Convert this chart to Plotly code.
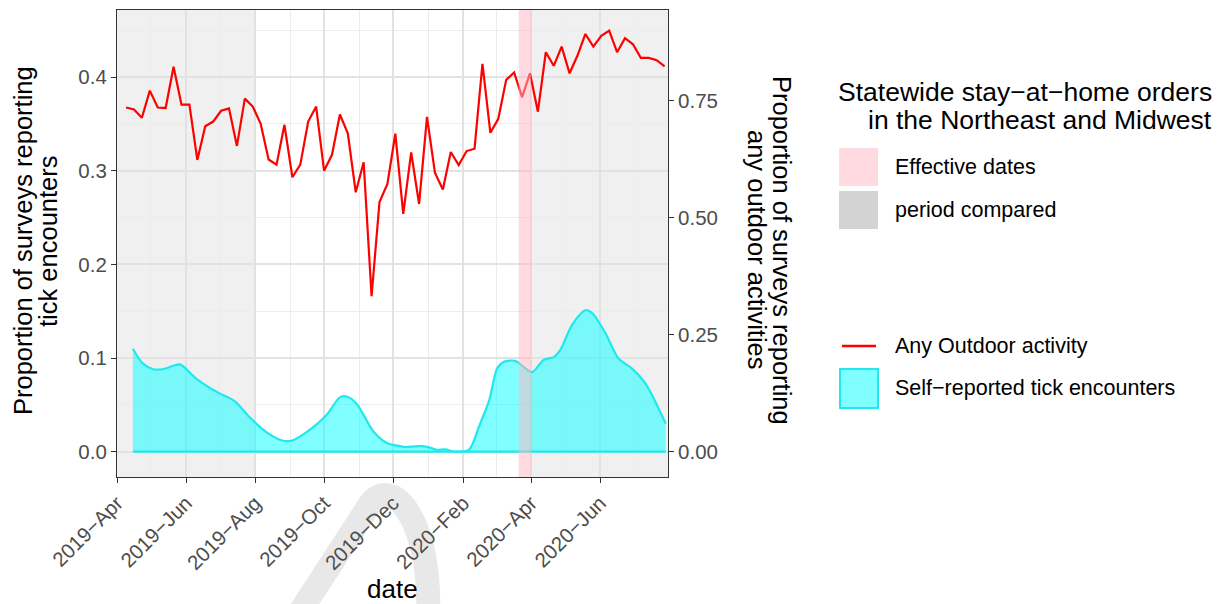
import pandas as pd
import plotly.graph_objects as go

# ---- data -------------------------------------------------------------
# weekly share of surveys reporting any outdoor activity (right axis)
outdoor_dates = pd.date_range("2019-04-09", periods=69, freq="7D")
outdoor_share = [
    0.735, 0.731, 0.713, 0.771, 0.735, 0.734, 0.822, 0.741, 0.741, 0.623,
    0.695, 0.705, 0.728, 0.733, 0.653, 0.754, 0.737, 0.700, 0.624, 0.613,
    0.698, 0.586, 0.613, 0.705, 0.737, 0.600, 0.634, 0.720, 0.680, 0.554,
    0.618, 0.332, 0.533, 0.572, 0.679, 0.508, 0.639, 0.529, 0.715, 0.596,
    0.560, 0.640, 0.612, 0.642, 0.647, 0.828, 0.681, 0.711, 0.794, 0.810,
    0.757, 0.808, 0.726, 0.853, 0.824, 0.865, 0.808, 0.846, 0.892, 0.865,
    0.888, 0.899, 0.853, 0.883, 0.870, 0.841, 0.841, 0.836, 0.823,
]

# smoothed share of surveys reporting tick encounters (left axis)
tick_dates = [
    "2019-04-15", "2019-04-24", "2019-05-03", "2019-05-13", "2019-05-21",
    "2019-05-27", "2019-06-10", "2019-06-22", "2019-07-01", "2019-07-14",
    "2019-07-27", "2019-08-11", "2019-08-25", "2019-09-03", "2019-09-18",
    "2019-10-03", "2019-10-15", "2019-10-21", "2019-10-30", "2019-11-05",
    "2019-11-14", "2019-11-26", "2019-12-07", "2019-12-12", "2019-12-24",
    "2020-01-02", "2020-01-09", "2020-01-16", "2020-01-25", "2020-02-06",
    "2020-02-15", "2020-02-24", "2020-03-02", "2020-03-08", "2020-03-18",
    "2020-03-25", "2020-04-02", "2020-04-12", "2020-04-21", "2020-04-27",
    "2020-05-07", "2020-05-19", "2020-05-25", "2020-06-06", "2020-06-17",
    "2020-06-29", "2020-07-11", "2020-07-29",
]
tick_share = [
    0.110, 0.094, 0.088, 0.0886, 0.092,
    0.093, 0.078, 0.068, 0.062, 0.054,
    0.037, 0.021, 0.012, 0.012, 0.023,
    0.039, 0.058, 0.059, 0.051, 0.039,
    0.021, 0.009, 0.006, 0.005, 0.006,
    0.0047, 0.002, 0.0025, 0.0, 0.002,
    0.027, 0.055, 0.089, 0.096, 0.097,
    0.091, 0.085, 0.098, 0.101, 0.109,
    0.135, 0.151, 0.148, 0.126, 0.0997,
    0.089, 0.073, 0.030,
]

# stay-at-home order window and the compared periods
order_window = ("2020-03-21", "2020-04-01")
compared_periods = [("2019-04-01", "2019-08-01"), ("2020-04-01", "2020-07-31")]

x_range = ["2019-04-01", "2020-07-31"]
left_range = [-0.027, 0.4716]
right_range = [-0.054, 0.9432]

# ---- styling ----------------------------------------------------------
W, H = 1225, 604
L, R, T, B = 117, 557, 10, 127
PW, PH = W - L - R, H - T - B
FONT = "Liberation Sans, Arial, sans-serif"
RED = "#FF0000"
CYAN_LINE = "#1FE8EE"
CYAN_FILL = "rgba(0,255,255,0.5)"
PINK = "rgba(255,182,193,0.5)"
GREY_RECT = "rgba(211,211,211,0.35)"


def px(x, y):
    """pixel position -> paper coordinates"""
    return (x - L) / PW, (H - B - y) / PH


fig = go.Figure()

# tick encounters: filled area with upper outline plus baseline
fig.add_trace(go.Scatter(
    x=tick_dates, y=tick_share, mode="lines", fill="tozeroy",
    fillcolor=CYAN_FILL, line=dict(color=CYAN_LINE, width=2.2, shape="spline", smoothing=0.8),
    showlegend=False, hoverinfo="skip", yaxis="y",
))
fig.add_trace(go.Scatter(
    x=[tick_dates[0], tick_dates[-1]], y=[0, 0], mode="lines",
    line=dict(color=CYAN_LINE, width=2.2), showlegend=False, hoverinfo="skip", yaxis="y",
))

# outdoor activity line on the secondary axis
fig.add_trace(go.Scatter(
    x=outdoor_dates, y=outdoor_share, mode="lines",
    line=dict(color=RED, width=2.2), showlegend=False, yaxis="y2",
))

shapes = []
for x0, x1 in compared_periods:
    shapes.append(dict(type="rect", xref="x", yref="paper", x0=x0, x1=x1, y0=0, y1=1,
                       fillcolor=GREY_RECT, line=dict(width=0), layer="between"))
shapes.append(dict(type="rect", xref="x", yref="paper", x0=order_window[0], x1=order_window[1],
                   y0=0, y1=1, fillcolor=PINK, line=dict(width=0), layer="above"))

# faint watermark stroke under the axis labels
shapes.append(dict(type="path", xref="paper", yref="paper",
                   path="M {:.4f},{:.4f} L {:.4f},{:.4f} C {:.4f},{:.4f} {:.4f},{:.4f} {:.4f},{:.4f}".format(
                       *px(296, 618), *px(370, 504), *px(392, 474), *px(432, 520), *px(428, 618)),
                   line=dict(color="#E8E8E8", width=24), layer="below"))

annotations = []


def text(x, y, s, size, color="black", angle=0, xanchor="center", align="center"):
    xp, yp = px(x, y)
    annotations.append(dict(x=xp, y=yp, xref="paper", yref="paper", text=s, showarrow=False,
                            textangle=angle, xanchor=xanchor, yanchor="middle", align=align,
                            font=dict(family=FONT, size=size, color=color)))


# axis titles
text(23, 241, "Proportion of surveys reporting", 25.5, angle=-90)
text(48, 241, "tick encounters", 25.5, angle=-90)
text(782, 250, "Proportion of surveys reporting", 25.5, angle=90)
text(757, 250, "any outdoor activities", 25.5, angle=90)
text(392, 589, "date", 26)

# legend
text(1214, 92, "Statewide stay\u2212at\u2212home orders", 26.5, xanchor="right")
text(1214, 120, "in the Northeast and Midwest", 26.5, xanchor="right")

key_x0, key_x1 = 839, 878
for (y0, y1), color, label in [((148, 186), PINK, "Effective dates"),
                               ((191, 229), "#D3D3D3", "period compared")]:
    a0, b0 = px(key_x0, y1)
    a1, b1 = px(key_x1, y0)
    shapes.append(dict(type="rect", xref="paper", yref="paper", x0=a0, x1=a1, y0=b0, y1=b1,
                       fillcolor=color, line=dict(width=0)))
    text(893, (y0 + y1) / 2, label, 21.5, xanchor="left")

a0, b0 = px(842, 346)
a1, _ = px(876, 346)
shapes.append(dict(type="line", xref="paper", yref="paper", x0=a0, x1=a1, y0=b0, y1=b0,
                   line=dict(color=RED, width=2.5)))
text(893, 346, "Any Outdoor activity", 21.5, xanchor="left")

a0, b0 = px(840, 408)
a1, b1 = px(878, 369)
shapes.append(dict(type="rect", xref="paper", yref="paper", x0=a0, x1=a1, y0=b0, y1=b1,
                   fillcolor=CYAN_FILL, line=dict(color=CYAN_LINE, width=2)))
text(893, 388, "Self\u2212reported tick encounters", 21.5, xanchor="left")

grid_major = "#E2E2E2"
grid_minor = "#ECECEC"
tickfont = dict(family=FONT, size=20.5, color="#4D4D4D")

fig.update_layout(
    width=W, height=H, margin=dict(l=L, r=R, t=T, b=B),
    paper_bgcolor="white", plot_bgcolor="white",
    shapes=shapes, annotations=annotations,
    xaxis=dict(
        type="date", range=x_range, tick0="2019-04-01", dtick="M2",
        tickformat="%Y\u2212%b", tickangle=-45, tickfont=tickfont,
        ticks="outside", ticklen=5, tickcolor="#333333", tickwidth=1.2,
        showline=True, linecolor="#333333", linewidth=1.2, mirror=True,
        showgrid=True, gridcolor=grid_major, gridwidth=1.6,
        minor=dict(tick0="2019-04-01", dtick="M1", showgrid=True, gridcolor=grid_minor, gridwidth=1),
        zeroline=False,
    ),
    yaxis=dict(
        range=left_range, tick0=0, dtick=0.1, tickformat=".1f", tickfont=tickfont,
        ticks="outside", ticklen=5, tickcolor="#333333", tickwidth=1.2,
        showline=True, linecolor="#333333", linewidth=1.2, mirror=True,
        showgrid=True, gridcolor=grid_major, gridwidth=1.6,
        minor=dict(tick0=0, dtick=0.05, showgrid=True, gridcolor=grid_minor, gridwidth=1),
        zeroline=False,
    ),
    yaxis2=dict(
        range=right_range, overlaying="y", side="right",
        tickvals=[0, 0.25, 0.5, 0.75], tickformat=".2f", tickfont=tickfont,
        ticks="outside", ticklen=5, tickcolor="#333333", tickwidth=1.2,
        showline=False, showgrid=False, zeroline=False,
    ),
)

fig.write_html("out.html")
